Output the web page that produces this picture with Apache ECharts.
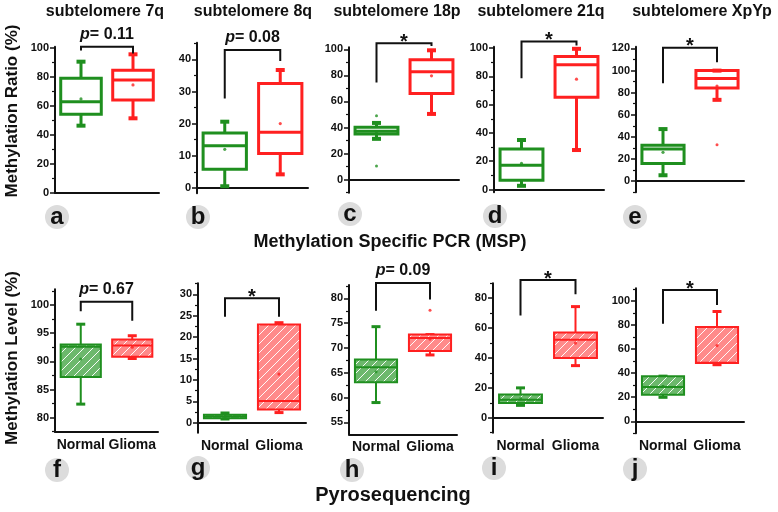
<!DOCTYPE html>
<html>
<head>
<meta charset="utf-8">
<script src="https://cdn.jsdelivr.net/npm/echarts@6/dist/echarts.min.js"></script>
<style>html,body{margin:0;padding:0;background:#fff}#main{width:778px;height:512px}</style>
</head>
<body>
<div id="main"></div>
<script>
// 数据
var categories = ['Normal', 'Glioma'];
var panelTitles = ['subtelomere 7q', 'subtelomere 8q', 'subtelomere 18p', 'subtelomere 21q', 'subtelomere XpYp'];
var panelLetters = ['a', 'b', 'c', 'd', 'e', 'f', 'g', 'h', 'i', 'j'];
var rowTitles = ['Methylation Specific PCR (MSP)', 'Pyrosequencing'];
var yTitles = ['Methylation Ratio (%)', 'Methylation Level (%)'];

// [min, Q1, median, Q3, max, mean]
var normalStats = [
    [46.4, 54.3, 63.0, 79.2, 90.7, 64.9],
    [0.5, 5.8, 13.1, 17.1, 20.6, 12.0],
    [31.3, 35.1, 37.1, 40.2, 43.5, 36.5],
    [2.6, 6.6, 17.2, 28.6, 35.0, 18.4],
    [5.4, 15.9, 29.2, 32.4, 47.1, 26.1],
    [82.4, 87.2, 92.6, 93.0, 96.6, 90.4],
    [0.9, 1.1, 1.5, 1.9, 2.3, 1.5],
    [59.0, 63.1, 66.1, 67.7, 74.3, 65.2],
    [8.3, 9.8, 12.0, 15.5, 20.0, 12.8],
    [19.9, 22.1, 28.5, 37.5, 37.5, 29.0]
];
var gliomaStats = [
    [51.5, 64.2, 78.0, 84.8, 95.8, 74.6],
    [4.2, 10.7, 17.3, 32.5, 36.7, 20.0],
    [50.4, 66.1, 82.7, 92.0, 99.2, 79.6],
    [27.9, 65.2, 88.2, 94.0, 99.5, 78.0],
    [73.5, 84.3, 92.7, 99.9, 99.9, 86.0],
    [90.5, 90.8, 92.8, 93.9, 94.55, 92.5],
    [2.4, 3.1, 5.1, 23.0, 23.4, 11.4],
    [68.6, 69.4, 72.0, 72.7, 72.7, 71.8],
    [34.9, 40.0, 52.2, 57.1, 74.4, 50.0],
    [47.0, 48.4, 48.6, 78.3, 91.2, 62.9]
];
// 离群点 [类别, 值]
var outlierPoints = [[], [], [[0, 49], [0, 10.4]], [], [[1, 33]], [], [], [[1, 77.6]], [], []];
// 括号 [左端, 顶部, 右端]
var brackets = [
    [98.5, 101.1, 96.3], [27.8, 42.9, 39.5], [74.5, 104.6, 102.5], [78.7, 104.7, 101.8], [88.6, 120.6, 107.5],
    [98.9, 100.6, 97.2], [24.8, 29.1, 24.8], [77.5, 83.1, 79.8], [68.4, 92.2, 82.7], [81.0, 109.1, 96.7]
];
var pLabels = ['p= 0.11', 'p= 0.08', '*', '*', '*', 'p= 0.67', '*', 'p= 0.09', '*', '*'];
var yTicks = [
    [0, 20, 40, 60, 80, 100], [0, 10, 20, 30, 40], [0, 20, 40, 60, 80, 100], [0, 20, 40, 60, 80, 100], [0, 20, 40, 60, 80, 100, 120],
    [80, 85, 90, 95, 100], [0, 5, 10, 15, 20, 25, 30], [55, 60, 65, 70, 75, 80], [0, 20, 40, 60, 80], [0, 20, 40, 60, 80, 100]
];
var yRanges = [
    [0, 101], [-1.7, 45.2], [-10, 101.5], [-2, 101], [-10, 121.5],
    [77.5, 102.8], [-2.3, 32.6], [52.6, 82.7], [-10, 90], [-10, 110.5]
];

// 布局 [left, top, width, height]
var grids = [
    [55, 46.8, 104, 145.9], [197, 42.7, 111, 150.6], [349, 47.3, 110, 145.4], [494, 46.7, 110, 145.6], [636, 46.7, 108, 145.6],
    [55, 289.3, 103, 142.4], [198, 283.3, 108, 149.4], [349, 285, 108, 149.3], [493, 283.3, 110, 149.4], [636, 288.3, 108, 145]
];
var titleX = [105, 253, 397, 541, 702];
var letterPos = [[57, 217], [198, 217], [350, 214], [495, 216], [635, 217], [57, 470], [198, 468], [352, 470], [494, 468], [635, 469]];

var FONT = '"Liberation Sans", Arial, sans-serif';
var GREEN = '#1f8f1f', RED = '#ff2020';
var INK = '#111';

function hatch(bg) {
    var s = 9;
    var c = document.createElement('canvas');
    c.width = s; c.height = s;
    var g = c.getContext('2d');
    g.fillStyle = bg;
    g.fillRect(0, 0, s, s);
    g.strokeStyle = 'rgba(255,255,255,0.95)';
    g.lineWidth = 1;
    g.beginPath();
    g.moveTo(0, s); g.lineTo(s, 0);
    g.moveTo(-1, 1); g.lineTo(1, -1);
    g.moveTo(s - 1, s + 1); g.lineTo(s + 1, s - 1);
    g.stroke();
    return c;
}
var hatchGreen = hatch('#6cb86c');
var hatchRed = hatch('#ff8a8a');

function minorOf(k) {
    var t = yTicks[k], step = t[1] - t[0], out = [];
    for (var v = t[0] - step / 2; v <= yRanges[k][1] + 1e-6; v += step) {
        if (v >= yRanges[k][0] - 1e-6) out.push(v);
    }
    return out;
}

function makeBox(bottom) {
    var lw = bottom ? 2 : 3;
    return function (params, api) {
        var cat = api.value(0);
        var color = cat === 0 ? GREEN : RED;
        var fill = bottom ? {image: cat === 0 ? hatchGreen : hatchRed, repeat: 'repeat'} : 'rgba(255,255,255,0)';
        var cx = api.coord([cat, 0])[0];
        function y(i) { return api.coord([cat, api.value(i)])[1]; }
        var yMin = y(1), yQ1 = y(2), yMed = y(3), yQ3 = y(4), yMax = y(5), yMean = y(6);
        var half = api.size([1, 0])[0] * 0.39;
        var cap = 4.5;
        function line(x1, y1, x2, y2, w) {
            return {type: 'line', shape: {x1: x1, y1: y1, x2: x2, y2: y2}, style: {stroke: color, lineWidth: w}};
        }
        return {
            type: 'group',
            children: [
                line(cx, yQ3, cx, yMax, lw),
                line(cx, yQ1, cx, yMin, lw),
                line(cx - cap, yMax, cx + cap, yMax, lw + 1),
                line(cx - cap, yMin, cx + cap, yMin, lw + 1),
                {type: 'rect', shape: {x: cx - half, y: yQ3, width: half * 2, height: Math.max(yQ1 - yQ3, 1)},
                    style: {fill: fill, stroke: color, lineWidth: lw}},
                line(cx - half, yMed, cx + half, yMed, lw),
                {type: 'circle', shape: {cx: cx, cy: yMean, r: 1.6}, style: {fill: color, opacity: 0.8}}
            ]
        };
    };
}

function makeBracket(label) {
    return function (params, api) {
        var pL = api.coord([0, api.value(1)]);
        var pT0 = api.coord([0, api.value(2)]);
        var pT1 = api.coord([1, api.value(2)]);
        var pR = api.coord([1, api.value(3)]);
        var mid = (pT0[0] + pT1[0]) / 2;
        var txt;
        if (label === '*') {
            txt = {type: 'text', x: mid, y: pT0[1] - 1,
                style: {text: '*', fontSize: 20, fontWeight: 'bold', fontFamily: FONT, fill: INK, align: 'center', verticalAlign: 'middle'}};
        } else {
            var base = {fontSize: 16, fontWeight: 'bold', fontFamily: FONT, fill: INK};
            txt = {type: 'text', x: mid, y: pT0[1] - 4,
                style: {
                    text: '{i|p}{n|' + label.slice(1) + '}',
                    rich: {i: Object.assign({fontStyle: 'italic'}, base), n: base},
                    fontSize: 16, fontWeight: 'bold', fontFamily: FONT, fill: INK,
                    align: 'center', verticalAlign: 'bottom'
                }};
        }
        return {
            type: 'group',
            children: [
                {type: 'polyline', shape: {points: [pL, pT0, pT1, pR]}, style: {stroke: INK, lineWidth: 2, fill: null}},
                txt
            ]
        };
    };
}

var myChart = echarts.init(document.getElementById('main'));
var option = {animation: false, grid: [], xAxis: [], yAxis: [], series: [], graphic: []};
var axisLine = {show: true, lineStyle: {color: INK, width: 2}};

for (var k = 0; k < 10; k++) {
    var bottom = k >= 5;
    var g = grids[k];
    option.grid.push({left: g[0], top: g[1], width: g[2], height: g[3]});
    option.xAxis.push({
        type: 'category', gridIndex: k, data: categories, boundaryGap: true,
        axisLine: axisLine,
        axisTick: {alignWithLabel: true, interval: 0, length: 4, lineStyle: {color: INK, width: 1.5}},
        axisLabel: {show: bottom, interval: 0, hideOverlap: false, fontFamily: FONT, fontWeight: 'bold', fontSize: 14, color: INK, margin: 6},
        splitLine: {show: false}
    });
    option.yAxis.push({
        type: 'value', gridIndex: k, position: 'left', min: yRanges[k][0], max: yRanges[k][1],
        axisLine: axisLine,
        axisTick: {show: true, length: 5, customValues: yTicks[k], lineStyle: {color: INK, width: 1.5}},
        axisLabel: {customValues: yTicks[k], fontFamily: FONT, fontWeight: 'bold', fontSize: 11, color: INK, margin: 6},
        splitLine: {show: false}
    });
    option.yAxis.push({
        type: 'value', gridIndex: k, position: 'left', min: yRanges[k][0], max: yRanges[k][1],
        axisLine: {show: false},
        axisTick: {show: true, length: 3, customValues: minorOf(k), lineStyle: {color: INK, width: 1.2}},
        axisLabel: {show: false},
        splitLine: {show: false}
    });
    option.series.push({
        type: 'custom', xAxisIndex: k, yAxisIndex: 2 * k,
        data: [[0].concat(normalStats[k]), [1].concat(gliomaStats[k])],
        encode: {x: 0, y: [1, 2, 3, 4, 5, 6]},
        renderItem: makeBox(bottom), z: 3
    });
    option.series.push({
        type: 'custom', xAxisIndex: k, yAxisIndex: 2 * k,
        data: [[0].concat(brackets[k])],
        encode: {x: 0, y: [1, 2, 3]},
        renderItem: makeBracket(pLabels[k]), z: 4
    });
    if (outlierPoints[k].length) {
        option.series.push({
            type: 'scatter', xAxisIndex: k, yAxisIndex: 2 * k, symbolSize: 3,
            data: outlierPoints[k].map(function (p) {
                return {value: p, itemStyle: {color: p[0] === 0 ? GREEN : RED}};
            })
        });
    }
    // 字母圆标
    option.graphic.push({type: 'circle', shape: {cx: letterPos[k][0], cy: letterPos[k][1], r: 12}, style: {fill: '#dcdcdc'}});
    option.graphic.push({type: 'text', x: letterPos[k][0], y: letterPos[k][1],
        style: {text: panelLetters[k], fontSize: 24, fontWeight: 'bold', fontFamily: FONT, fill: INK,
            align: 'center', verticalAlign: 'middle', textAlign: 'center', textVerticalAlign: 'middle'}});
}

panelTitles.forEach(function (t, i) {
    option.graphic.push({type: 'text', x: titleX[i], y: 12,
        style: {text: t, fontSize: 16, fontWeight: 'bold', fontFamily: FONT, fill: INK,
            align: 'center', verticalAlign: 'middle', textAlign: 'center', textVerticalAlign: 'middle'}});
});
[[390, 242, 18], [393, 495, 20]].forEach(function (p, i) {
    option.graphic.push({type: 'text', x: p[0], y: p[1],
        style: {text: rowTitles[i], fontSize: p[2], fontWeight: 'bold', fontFamily: FONT, fill: INK,
            align: 'center', verticalAlign: 'middle', textAlign: 'center', textVerticalAlign: 'middle'}});
});
[[12, 111], [12, 358]].forEach(function (p, i) {
    option.graphic.push({type: 'text', x: p[0], y: p[1], rotation: Math.PI / 2,
        style: {text: yTitles[i], fontSize: 17, fontWeight: 'bold', fontFamily: FONT, fill: INK,
            align: 'center', verticalAlign: 'middle', textAlign: 'center', textVerticalAlign: 'middle'}});
});

if (option && typeof option === "object") {
    myChart.setOption(option, true);
}
</script>
</body>
</html>
